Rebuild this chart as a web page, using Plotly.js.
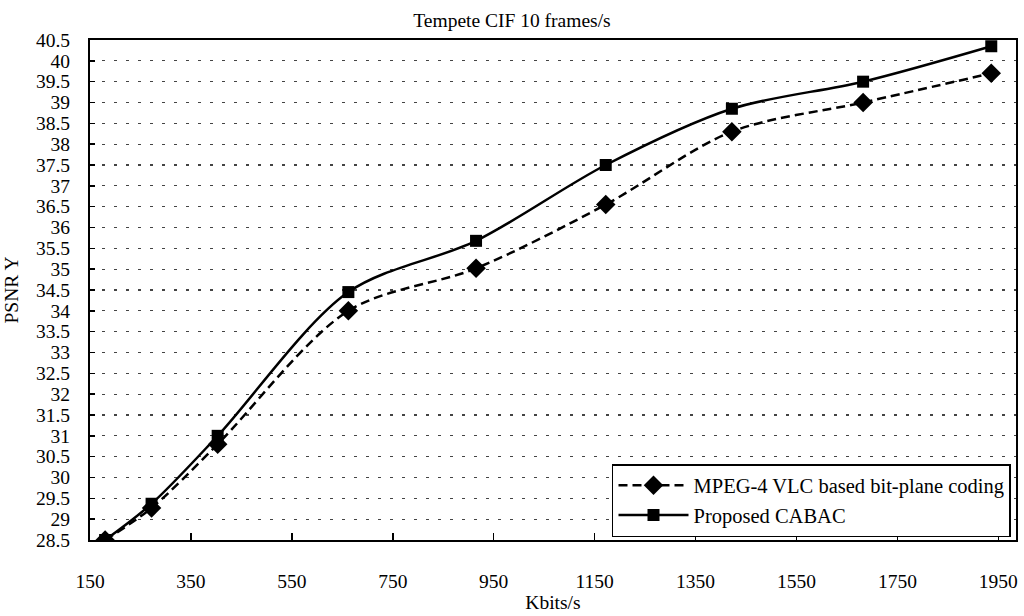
<!DOCTYPE html>
<html>
<head>
<meta charset="utf-8">
<script src="https://cdn.plot.ly/plotly-3.0.1.min.js"></script>
<style>html,body{margin:0;padding:0;background:#fff;}#chart{width:1024px;height:616px;}</style>
</head>
<body>
<div id="chart"></div>
<script>
// Bit rate (Kbits/s) of each measured point
const bitrate = [180, 272, 403, 662, 915, 1172, 1422, 1682, 1936];
// PSNR Y for the two coders
const mpeg4VLC = [28.5, 29.27, 30.8, 34.0, 35.02, 36.55, 38.3, 39.0, 39.7];
const proposedCABAC = [28.5, 29.37, 31.0, 34.45, 35.68, 37.5, 38.85, 39.5, 40.35];
// Series names
const seriesNames = ["MPEG-4 VLC based bit-plane coding", "Proposed CABAC"];
// Tick labels
const xTickLabels = [150, 350, 550, 750, 950, 1150, 1350, 1550, 1750, 1950];
const yTickLabels = [28.5, 29, 29.5, 30, 30.5, 31, 31.5, 32, 32.5, 33, 33.5, 34, 34.5, 35,
                     35.5, 36, 36.5, 37, 37.5, 38, 38.5, 39, 39.5, 40, 40.5];

const FONT = "Liberation Serif, Times New Roman, serif";

const traces = [
  {
    x: bitrate, y: mpeg4VLC, name: seriesNames[0], type: "scatter", mode: "lines+markers",
    line: {color: "#000", width: 2.5, dash: "9px,5px", shape: "spline", smoothing: 0.9},
    marker: {symbol: "diamond", size: 15, color: "#000"}
  },
  {
    x: bitrate, y: proposedCABAC, name: seriesNames[1], type: "scatter", mode: "lines+markers",
    line: {color: "#000", width: 2.5, shape: "spline", smoothing: 0.9},
    marker: {symbol: "square", size: 12, color: "#000"}
  }
];

const layout = {
  width: 1024, height: 616,
  margin: {l: 90, r: 8, t: 40, b: 76},
  paper_bgcolor: "#fff", plot_bgcolor: "#fff",
  font: {family: FONT, color: "#000", size: 20},
  title: {text: "Tempete CIF 10 frames/s", font: {family: FONT, size: 19.5, color: "#000"},
          xref: "container", x: 0.5, xanchor: "center", yref: "container", y: 1 - 20/616, yanchor: "middle"},
  xaxis: {
    range: [150, 1985], tickvals: xTickLabels, ticktext: xTickLabels.map(String),
    ticks: "inside", ticklen: 7, tickwidth: 1.5, tickcolor: "#000",
    showline: true, linecolor: "#000", linewidth: 2, mirror: true,
    showgrid: false, zeroline: false,
    tickfont: {family: FONT, size: 19.5, color: "#000"},
    ticklabelstandoff: 23,
    title: {text: "Kbits/s", font: {family: FONT, size: 19.5, color: "#000"}, standoff: 3}
  },
  yaxis: {
    range: [28.5, 40.5], tickvals: yTickLabels, ticktext: yTickLabels.map(String),
    ticks: "inside", ticklen: 5, tickwidth: 1.5, tickcolor: "#000",
    showline: true, linecolor: "#000", linewidth: 2, mirror: true,
    showgrid: true, gridcolor: "#444", gridwidth: 1.2, griddash: "3px,9px",
    zeroline: false,
    tickfont: {family: FONT, size: 19.5, color: "#000"},
    ticklabelstandoff: 14,
    title: {text: "PSNR Y", font: {family: FONT, size: 19.5, color: "#000"}, standoff: 12}
  },
  showlegend: true,
  legend: {
    x: 0.9946, xanchor: "right", y: 0.006, yanchor: "bottom",
    bgcolor: "#fff", bordercolor: "#000", borderwidth: 1.5,
    font: {family: FONT, size: 20.5, color: "#000"},
    itemwidth: 70, tracegroupgap: 0
  }
};

Plotly.newPlot("chart", traces, layout, {staticPlot: true, displayModeBar: false});
</script>
</body>
</html>
